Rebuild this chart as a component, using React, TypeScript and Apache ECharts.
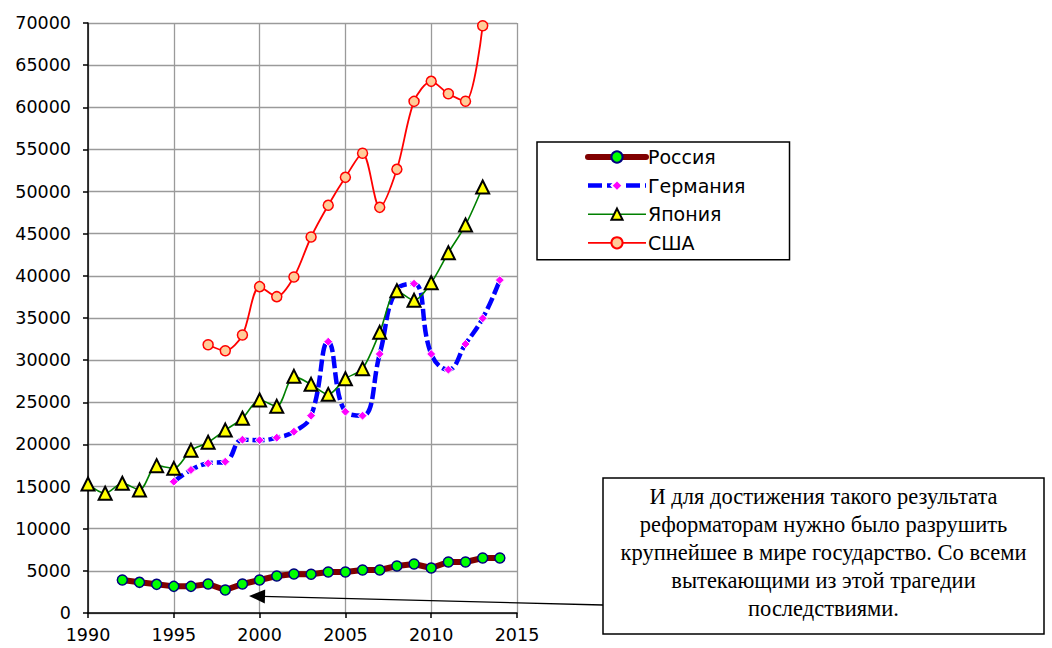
import React, { useEffect, useRef } from "react";
import * as echarts from "echarts";

const russiaYears = [1992, 1993, 1994, 1995, 1996, 1997, 1998, 1999, 2000, 2001, 2002, 2003, 2004, 2005, 2006, 2007, 2008, 2009, 2010, 2011, 2012, 2013, 2014];
const russiaValues = [3920, 3640, 3400, 3160, 3160, 3440, 2730, 3440, 3920, 4390, 4630, 4600, 4860, 4860, 5100, 5100, 5580, 5810, 5340, 6050, 6050, 6530, 6530];

const germanyYears = [1995, 1996, 1997, 1998, 1999, 2000, 2001, 2002, 2003, 2004, 2005, 2006, 2007, 2008, 2009, 2010, 2011, 2012, 2013, 2014];
const germanyValues = [15580, 16970, 17760, 17950, 20560, 20500, 20800, 21510, 23410, 32190, 23880, 23410, 30730, 38400, 39070, 30730, 28870, 31910, 34960, 39500];

const japanYears = [1990, 1991, 1992, 1993, 1994, 1995, 1996, 1997, 1998, 1999, 2000, 2001, 2002, 2003, 2004, 2005, 2006, 2007, 2008, 2009, 2010, 2011, 2012, 2013];
const japanValues = [15300, 14200, 15390, 14600, 17480, 17160, 19300, 20250, 21700, 23100, 25270, 24520, 28080, 27130, 25940, 27800, 28990, 33300, 38240, 37100, 39190, 42750, 46030, 50540];

const usaYears = [1997, 1998, 1999, 2000, 2001, 2002, 2003, 2004, 2005, 2006, 2007, 2008, 2009, 2010, 2011, 2012, 2013];
const usaValues = [31830, 31120, 32980, 38720, 37530, 39860, 44610, 48370, 51690, 54540, 48130, 52640, 60700, 63080, 61600, 60710, 69680];

const seriesNames = ["Россия", "Германия", "Япония", "США"];

const noteLines = [
  "И для достижения такого результата",
  "реформаторам нужно было разрушить",
  "крупнейшее в мире государство. Со всеми",
  "вытекающими из этой трагедии",
  "последствиями.",
];

const pairs = (xs: number[], ys: number[]) => xs.map((x, i) => [x, ys[i]]);

const AXIS_FONT = "DejaVu Sans";

const russiaLine = { color: "#800000", width: 6, cap: "round", join: "round" };
const germanyLine = { color: "#0000ff", width: 4.5, type: [12, 4] };
const japanLine = { color: "#008000", width: 1.6 };
const usaLine = { color: "#ff0000", width: 1.8 };

export default function App() {
  const ref = useRef<HTMLDivElement>(null);
  useEffect(() => {
    document.body.style.margin = "0";
    const chart = echarts.init(ref.current!, null, { renderer: "svg" });
    const fmt = (v: number) => String(v);
    const option: any = {
      animation: false,
      backgroundColor: "#fff",
      grid: { left: 88, right: 535, top: 23, bottom: 35, containLabel: false },
      xAxis: {
        type: "value",
        min: 1990,
        max: 2015,
        interval: 5,
        axisLine: { show: true, onZero: false, lineStyle: { color: "#000", width: 1.5 } },
        axisTick: { show: true, length: 5, lineStyle: { color: "#000", width: 1.5 } },
        axisLabel: { margin: 13, color: "#000", fontSize: 17.5, fontFamily: AXIS_FONT, formatter: fmt },
        splitLine: { show: true, lineStyle: { color: "#9a9a9a", width: 1.3 } },
      },
      yAxis: {
        type: "value",
        min: 0,
        max: 70000,
        interval: 5000,
        axisLine: { show: true, lineStyle: { color: "#000", width: 1.5 } },
        axisTick: { show: true, length: 5, lineStyle: { color: "#000", width: 1.5 } },
        axisLabel: { margin: 17, color: "#000", fontSize: 17.5, fontFamily: AXIS_FONT, formatter: fmt },
        splitLine: { show: true, lineStyle: { color: "#9a9a9a", width: 1.3 } },
      },
      legend: {
        orient: "vertical",
        left: 537,
        top: 142,
        itemWidth: 58,
        itemHeight: 14,
        itemGap: 8.6,
        padding: [5, 44, 7, 48],
        borderColor: "#000",
        borderWidth: 1.5,
        selectedMode: false,
        textStyle: { color: "#000", fontSize: 19, fontFamily: AXIS_FONT, lineHeight: 20, padding: [0, 0, 0, -3] },
        data: [
          { name: seriesNames[0], lineStyle: russiaLine },
          { name: seriesNames[1], lineStyle: { color: "#0000ff", width: 4.5, type: [14, 5] } },
          { name: seriesNames[2], lineStyle: japanLine },
          { name: seriesNames[3], lineStyle: usaLine },
        ],
      },
      series: [
        {
          name: seriesNames[3],
          type: "line",
          data: pairs(usaYears, usaValues),
          smooth: 0.3,
          symbol: "circle",
          symbolSize: 10,
          itemStyle: { color: "#ffcc99", borderColor: "#ff0000", borderWidth: 1.5 },
          lineStyle: usaLine,
          z: 2,
        },
        {
          name: seriesNames[1],
          type: "line",
          data: pairs(germanyYears, germanyValues),
          smooth: 0.45,
          symbol: "diamond",
          symbolSize: 9,
          itemStyle: { color: "#ff00ff", borderColor: "#ffffff", borderWidth: 1 },
          lineStyle: germanyLine,
          z: 3,
        },
        {
          name: seriesNames[2],
          type: "line",
          data: pairs(japanYears, japanValues),
          smooth: 0.3,
          symbol: "triangle",
          symbolSize: 13,
          itemStyle: { color: "#ffff00", borderColor: "#000000", borderWidth: 2 },
          lineStyle: japanLine,
          z: 4,
        },
        {
          name: seriesNames[0],
          type: "line",
          data: pairs(russiaYears, russiaValues),
          smooth: false,
          symbol: "circle",
          symbolSize: 10,
          itemStyle: { color: "#00ff00", borderColor: "#000080", borderWidth: 1.5 },
          lineStyle: russiaLine,
          z: 5,
        },
      ],
      graphic: [
        {
          type: "line",
          shape: { x1: 603, y1: 605, x2: 262, y2: 596.3 },
          style: { stroke: "#000", lineWidth: 1.3 },
          z: 100,
        },
        {
          type: "polygon",
          shape: { points: [[249, 596], [265.2, 589.4], [264.8, 603.4]] },
          style: { fill: "#000" },
          z: 100,
        },
        {
          type: "rect",
          shape: { x: 603, y: 478, width: 441, height: 156 },
          style: { fill: "#fff", stroke: "#000", lineWidth: 1.5 },
          z: 100,
        },
        {
          type: "text",
          x: 823.5,
          y: 552,
          style: {
            text: noteLines.join("\n"),
            fontSize: 22.5,
            fontFamily: "Liberation Serif",
            align: "center",
            verticalAlign: "middle",
            lineHeight: 28,
            fill: "#000",
          },
          z: 101,
        },
      ],
    };
    chart.setOption(option);
    return () => chart.dispose();
  }, []);
  return <div ref={ref} style={{ width: 1052, height: 648 }} />;
}
